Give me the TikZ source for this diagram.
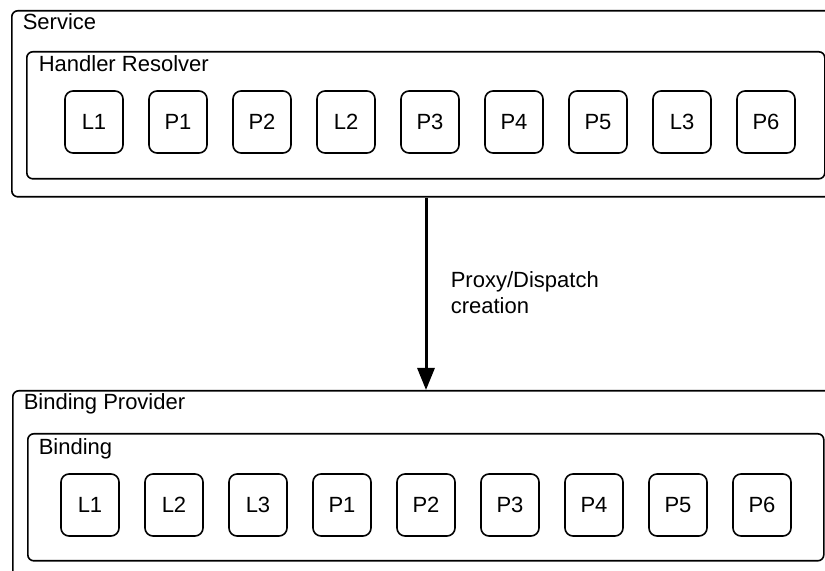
\documentclass[tikz,border=0pt]{standalone}
\usepackage{fontspec}
\setmainfont{Liberation Sans}
\usetikzlibrary{arrows.meta}

\tikzset{
    container/.style={draw, rounded corners=3pt, anchor=north west, inner sep=0pt},
    handler/.style={draw, rounded corners=4pt, minimum width=29pt, minimum height=31pt, inner sep=0pt},
    caption/.style={anchor=base west, inner sep=0pt}
}

\begin{document}
\begin{tikzpicture}[>=Stealth, x=0.5pt, y=-0.5pt, line width=0.8pt, font=\fontsize{11}{13}\selectfont]

    \useasboundingbox (0,0) rectangle (825,571);
    \clip (0,0) rectangle (825,571);

    % Service with its handler resolver
    \node[container, minimum width=416pt, minimum height=93pt] (service) at (11,10) {};
    \node[caption] (servicelabel) at (22,30) {Service};
    \node[container, minimum width=399pt, minimum height=63.5pt] (resolver) at (26,51) {};
    \node[caption] (resolverlabel) at (38,72) {Handler Resolver};
    \foreach \name [count=\i] in {L1, P1, P2, L2, P3, P4, P5, L3, P6} {
        \node[handler] (hr\i) at ({10+84*\i},122) {\name};
    }

    % Binding provider with its binding
    \node[container, minimum width=416pt, minimum height=100pt] (provider) at (12,390) {};
    \node[caption] (providerlabel) at (23,410) {Binding Provider};
    \node[container, minimum width=398pt, minimum height=63.5pt] (binding) at (27,433) {};
    \node[caption] (bindinglabel) at (38,455) {Binding};
    \foreach \name [count=\i] in {L1, L2, L3, P1, P2, P3, P4, P5, P6} {
        \node[handler] (b\i) at ({6+84*\i},505) {\name};
    }

    % creation arrow
    \coordinate (flow) at (426,0);
    \draw[-{Triangle[length=11pt, width=8.5pt]}, line width=1.5pt] (service.south -| flow) -- (provider.north -| flow);
    \node[anchor=west, align=left, inner sep=0pt, font=\fontsize{11}{13}\selectfont] (creation) at (450,293) {Proxy/Dispatch\\creation};

\end{tikzpicture}
\end{document}
